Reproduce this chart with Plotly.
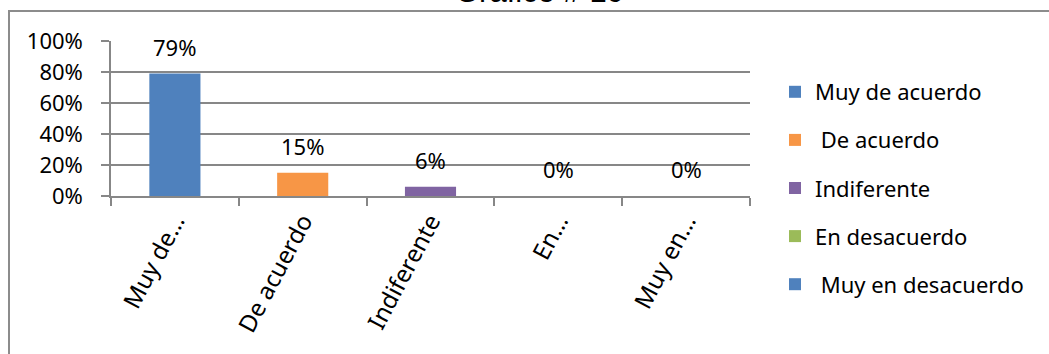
import plotly.graph_objects as go

categories = ["Muy de acuerdo", "De acuerdo", "Indiferente", "En desacuerdo", "Muy en desacuerdo"]
legend_names = ["Muy de acuerdo", "\u00a0De acuerdo", "Indiferente", "En desacuerdo", "\u00a0Muy en desacuerdo"]
tick_labels = ["Muy de…", "De acuerdo", "Indiferente", "En…", "Muy en…"]
values = [0.79, 0.15, 0.06, 0.0, 0.0]
label_texts = ["79%", "15%", "6%", "0%", "0%"]
colors = ["#4F81BD", "#F79646", "#8064A2", "#9BBB59", "#4F81BD"]
title_text = "Gráfico # 10"

W, H = 1049, 354
L, R, T, B = 111, 299, 41, 158
pw = W - L - R
ph = H - T - B

def px_x(p):
    return (p - L) / pw

def px_y(p):
    return (H - B - p) / ph

fig = go.Figure()
for i, (cat, name, v, c) in enumerate(zip(categories, legend_names, values, colors)):
    fig.add_trace(go.Bar(
        x=[cat], y=[v], name=name, marker=dict(color=c, line=dict(width=0)),
        width=0.4, legendgroup=f"g{i}", showlegend=True,
    ))

annotations = []
for cat, v, t in zip(categories, values, label_texts):
    annotations.append(dict(
        x=cat, y=v, xref="x", yref="y", text=t, showarrow=False,
        yshift=27, yanchor="middle", xanchor="center",
        font=dict(family="Noto Sans", size=22, color="#000000"),
    ))
annotations.append(dict(
    x=px_x(539), y=px_y(-9), xref="paper", yref="paper", text=title_text,
    showarrow=False, xanchor="center", yanchor="middle",
    font=dict(family="Liberation Sans", size=31, color="#000000"),
))

grid_color = "#878787"
fig.update_layout(
    width=W, height=H,
    margin=dict(l=L, r=R, t=T, b=B, pad=0, autoexpand=False),
    paper_bgcolor="white", plot_bgcolor="white",
    barmode="relative",
    showlegend=True,
    legend=dict(
        x=px_x(775), y=px_y(71), xanchor="left", yanchor="top",
        font=dict(family="Noto Sans", size=22, color="#000000"),
        tracegroupgap=16.5, bgcolor="rgba(0,0,0,0)",
        traceorder="grouped", maxheight=320,
    ),
    annotations=annotations,
    shapes=[dict(
        type="rect", xref="paper", yref="paper",
        x0=px_x(9), y0=px_y(400), x1=px_x(1100), y1=px_y(11),
        line=dict(color="#8c8c8c", width=2), fillcolor="rgba(0,0,0,0)", layer="below",
    )],
    xaxis=dict(
        type="category", categoryorder="array", categoryarray=categories,
        tickmode="array", tickvals=categories, ticktext=tick_labels,
        tickangle=-62, tickson="boundaries", ticks="outside", ticklen=8,
        tickcolor=grid_color, tickwidth=1.5,
        showline=True, linecolor=grid_color, linewidth=1.5,
        showgrid=False, zeroline=False, automargin=False,
        tickfont=dict(family="Noto Sans", size=24, color="#000000"),
    ),
    yaxis=dict(
        range=[0, 1], tickmode="array", tickvals=[0, 0.2, 0.4, 0.6, 0.8, 1.0],
        tickformat=".0%", ticks="outside", ticklen=8, tickcolor=grid_color, tickwidth=1.5,
        showgrid=True, gridcolor=grid_color, gridwidth=1.5,
        showline=True, linecolor=grid_color, linewidth=1.5, zeroline=False,
        ticklabelstandoff=14, automargin=False,
        tickfont=dict(family="Noto Sans", size=22, color="#000000"),
    ),
)

fig.write_html(
    "out.html",
    config={"displayModeBar": False},
    post_script="document.body.style.margin='0';document.body.style.overflow='hidden';",
)
